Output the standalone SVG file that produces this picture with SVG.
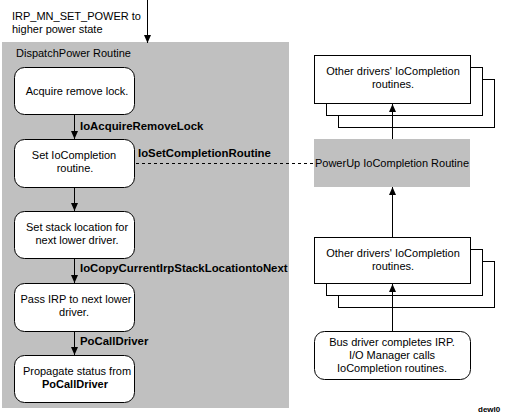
<svg xmlns="http://www.w3.org/2000/svg" width="509" height="415" viewBox="0 0 509 415">
<defs>
<style>
text{font-family:"Liberation Sans",Arial,sans-serif;font-size:11px;fill:#000}
.b{font-weight:bold}
.lb{font-weight:bold;font-size:11.4px}
.c{text-anchor:middle}
.rb{fill:#fff;stroke:#000;stroke-width:1}
.sq{fill:#fff;stroke:#000;stroke-width:1}
.ln{stroke:#000;stroke-width:1;fill:none}
.dash{stroke:#000;stroke-width:1;fill:none;stroke-dasharray:3,3}
.gray{fill:#c0c0c0}
</style>
<marker id="ah" viewBox="0 0 8 8" refX="8" refY="4" markerWidth="8" markerHeight="8" orient="auto" markerUnits="userSpaceOnUse">
<path d="M0,0.5 L8,4 L0,7.5 Z" fill="#000"/>
</marker>
</defs>
<rect width="509" height="415" fill="#fff"/>
<g id="dispatch">
<rect class="gray" x="2" y="42" width="287" height="366"/>
<text x="16" y="57">DispatchPower Routine</text>
</g>
<g id="irp-label">
<text x="12" y="20">IRP_MN_SET_POWER to</text>
<text x="12" y="33">higher power state</text>
</g>
<g id="acquire">
<rect class="rb" x="14.5" y="67.5" width="120" height="47" rx="10"/>
<text class="c" x="77" y="95">Acquire remove lock.</text>
</g>
<g id="setcompletion">
<rect class="rb" x="14.5" y="139.5" width="120" height="48" rx="10"/>
<text class="c" x="74" y="159">Set IoCompletion</text>
<text class="c" x="75" y="172">routine.</text>
</g>
<g id="setstack">
<rect class="rb" x="14.5" y="211.5" width="120" height="47" rx="10"/>
<text class="c" x="77" y="231">Set stack location for</text>
<text class="c" x="77" y="244">next lower driver.</text>
</g>
<g id="passirp">
<rect class="rb" x="14.5" y="283.5" width="120" height="48" rx="10"/>
<text class="c" x="76" y="303">Pass IRP to next lower</text>
<text class="c" x="74" y="316">driver.</text>
</g>
<g id="propagate">
<rect class="rb" x="14.5" y="355.5" width="120" height="47" rx="10"/>
<text class="c" x="77" y="375">Propagate status from</text>
<text class="c b" x="75" y="388">PoCallDriver</text>
</g>
<g id="others-top">
<rect class="sq" x="338.5" y="79.5" width="156" height="48"/>
<rect class="sq" x="326.5" y="67.5" width="156" height="48"/>
<rect class="sq" x="314.5" y="55.5" width="156" height="48"/>
<text class="c" x="393" y="75">Other drivers' IoCompletion</text>
<text class="c" x="393" y="88">routines.</text>
</g>
<g id="powerup">
<rect class="gray" x="314" y="139" width="156" height="48"/>
<text class="c" x="392" y="167">PowerUp IoCompletion Routine</text>
</g>
<g id="others-bottom">
<rect class="sq" x="338.5" y="261.5" width="156" height="46"/>
<rect class="sq" x="326.5" y="249.5" width="156" height="46"/>
<rect class="sq" x="314.5" y="237.5" width="156" height="46"/>
<text class="c" x="393" y="257">Other drivers' IoCompletion</text>
<text class="c" x="393" y="270">routines.</text>
</g>
<g id="busdriver">
<rect class="rb" x="314.5" y="331.5" width="156" height="48" rx="10"/>
<text class="c" x="392" y="346">Bus driver completes IRP.</text>
<text class="c" x="392" y="359">I/O Manager calls</text>
<text class="c" x="392" y="372">IoCompletion routines.</text>
</g>
<g id="connectors">
<line class="ln" x1="147.5" y1="0" x2="147.5" y2="43" marker-end="url(#ah)"/>
<line class="ln" x1="74.5" y1="115" x2="74.5" y2="139" marker-end="url(#ah)"/>
<line class="ln" x1="74.5" y1="188" x2="74.5" y2="211" marker-end="url(#ah)"/>
<line class="ln" x1="74.5" y1="259" x2="74.5" y2="283" marker-end="url(#ah)"/>
<line class="ln" x1="74.5" y1="332" x2="74.5" y2="355" marker-end="url(#ah)"/>
<line class="dash" x1="136" y1="163.5" x2="314" y2="163.5"/>
<line class="ln" x1="392.5" y1="139" x2="392.5" y2="104" marker-end="url(#ah)"/>
<line class="ln" x1="392.5" y1="237" x2="392.5" y2="187" marker-end="url(#ah)"/>
<line class="ln" x1="392.5" y1="331" x2="392.5" y2="284" marker-end="url(#ah)"/>
<text class="lb" x="80" y="130">IoAcquireRemoveLock</text>
<text class="lb" x="138" y="157">IoSetCompletionRoutine</text>
<text class="lb" x="80" y="272">IoCopyCurrentIrpStackLocationtoNext</text>
<text class="lb" x="80" y="345">PoCallDriver</text>
</g>
<text class="b" x="478" y="412" style="font-size:8px">dewl0</text>
</svg>
